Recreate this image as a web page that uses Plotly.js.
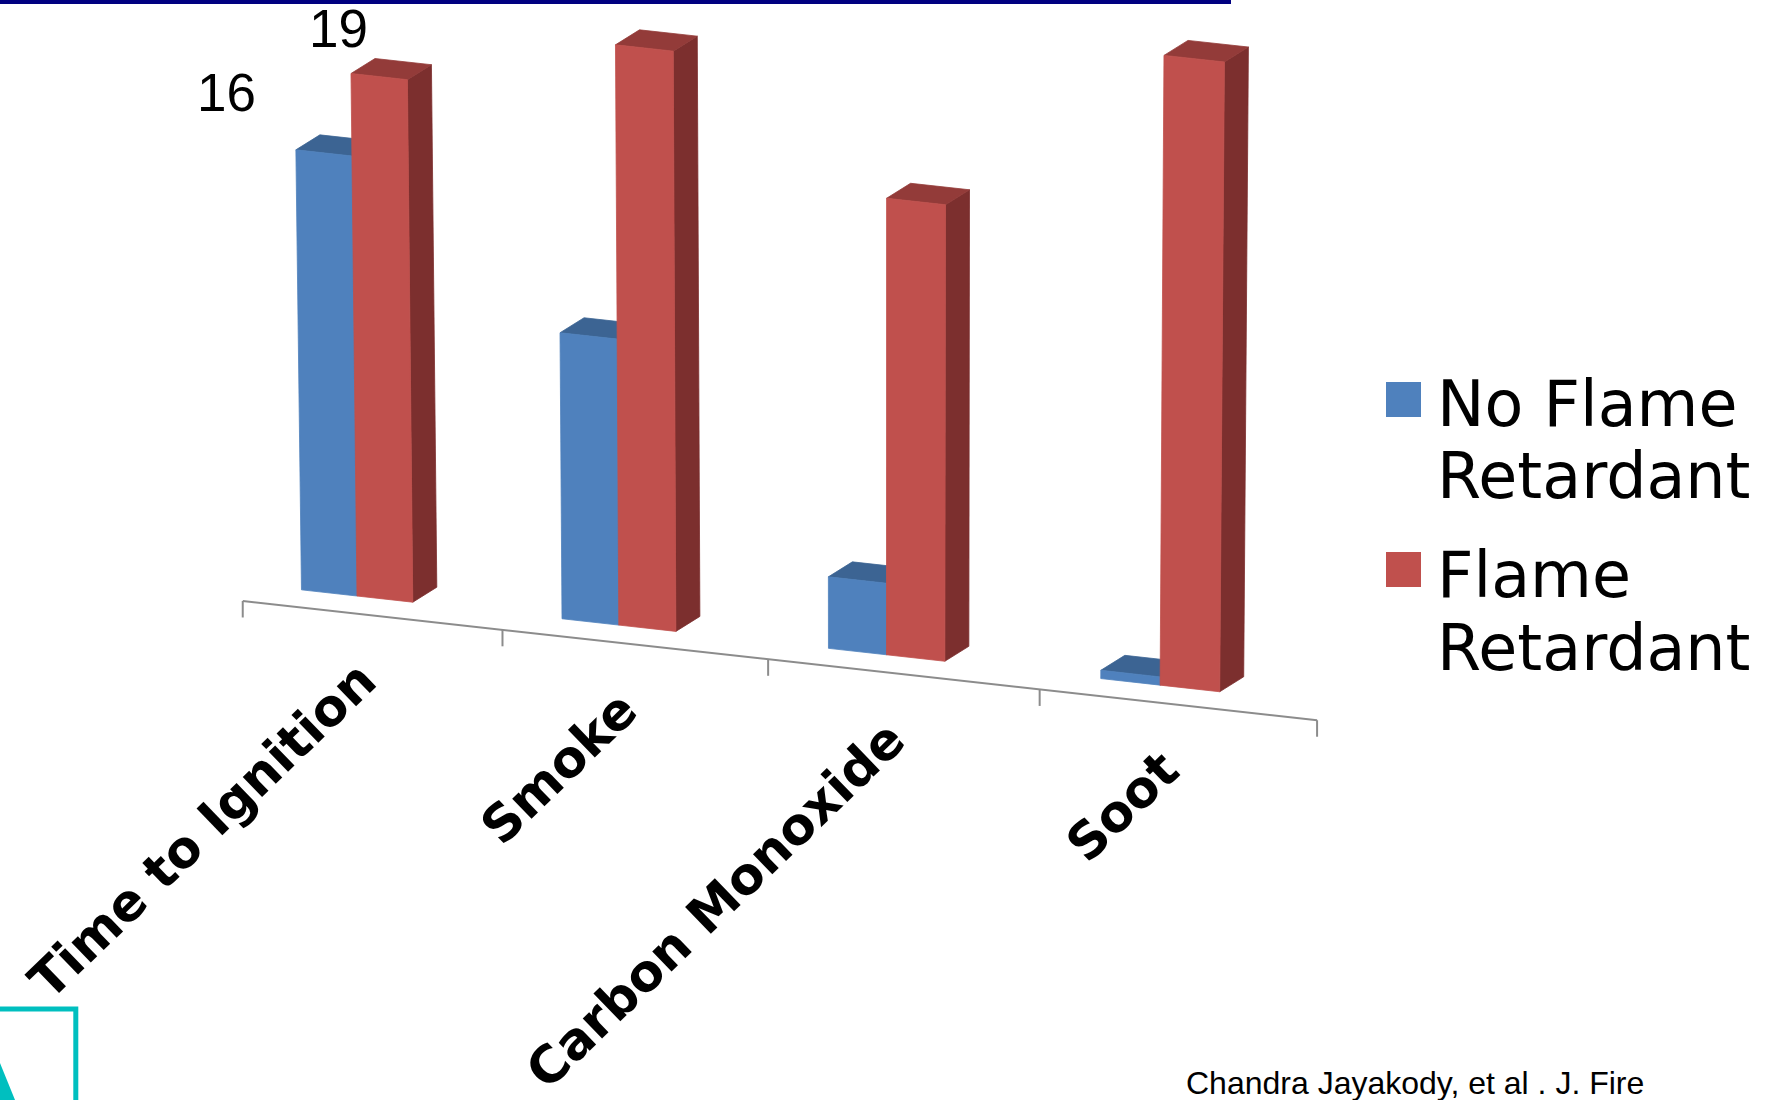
<!DOCTYPE html>
<html>
<head>
<meta charset="utf-8">
<script src="https://cdn.plot.ly/plotly-3.0.1.min.js"></script>
<style>
  html, body { margin: 0; padding: 0; background: #ffffff; }
  #chart { width: 1771px; height: 1100px; }
</style>
</head>
<body>
<div id="chart"></div>
<script>
// ---------------- data ----------------
const categories = ['Time to Ignition', 'Smoke', 'Carbon Monoxide', 'Soot'];
const seriesNames = ['No Flame Retardant', 'Flame Retardant'];
const noFlameRetardant = [16, 10.4, 2.6, 0.3];
const flameRetardant = [19, 21.1, 16.6, 22.9];
const labelledCategory = 0;           // data labels only shown for the first group
const citation = 'Chandra Jayakody, et al . J. Fire';

// ---------------- style ----------------
const W = 1771, H = 1100;
const COLORS = [
  { front: '#4F81BD', top: '#3C6493', side: '#365A86' },
  { front: '#C0504D', top: '#933B39', side: '#7C2F2E' }
];
const BAR_W = 0.215;           // bar width in category units
const DEPTH_X = 0.0897;        // 3D depth offset (category units)
const DEPTH_Y = 0.545;         // 3D depth offset (value units)
const SHEAR = 1.0805;          // floor tilt (value units per category unit)
const LEAN = 6.05e-4, LEAN_C = 1.954; // slight perspective lean of verticals
const PERSP = 0.011;           // slight perspective widening to the right
const X_RANGE = [-1.33358, 5.28203];
const Y_RANGE = [-18.327, 21.673];

// projection of (category position u, value v, depth d) into plot data coords
function P(u, v, d) {
  const U = u + PERSP * u * (u - (categories.length - 1));
  return [U + d * DEPTH_X + LEAN * (U - LEAN_C) * v, v - SHEAR * U + d * DEPTH_Y];
}
function face(pts, color) {
  const xs = pts.map(p => p[0]); xs.push(pts[0][0]);
  const ys = pts.map(p => p[1]); ys.push(pts[0][1]);
  return {
    type: 'scatter', mode: 'lines', x: xs, y: ys, fill: 'toself',
    fillcolor: color, line: { color: color, width: 0.8 },
    hoverinfo: 'skip', showlegend: false
  };
}

const series = [noFlameRetardant, flameRetardant];
const traces = [];
categories.forEach((cat, i) => {
  series.forEach((vals, s) => {
    const v = vals[i];
    const uL = i + (s === 0 ? -BAR_W : 0);
    const uR = uL + BAR_W;
    const c = COLORS[s];
    traces.push(face([P(uR, 0, 0), P(uR, v, 0), P(uR, v, 1), P(uR, 0, 1)], c.side));
    traces.push(face([P(uL, v, 0), P(uR, v, 0), P(uR, v, 1), P(uL, v, 1)], c.top));
    traces.push(face([P(uL, 0, 0), P(uR, 0, 0), P(uR, v, 0), P(uL, v, 0)], c.front));
  });
});

// category axis (front edge of the tilted floor) with tick marks at boundaries
const tickPos = [];
for (let k = 0; k <= categories.length; k++) tickPos.push(k - 0.35);
const axPts = tickPos.map(t => P(t, 0, -1));
traces.push({ type: 'scatter', mode: 'lines', x: axPts.map(p => p[0]), y: axPts.map(p => p[1]),
  line: { color: '#8C8C8C', width: 2 }, hoverinfo: 'skip', showlegend: false });
const tx = [], ty = [];
axPts.forEach(p => { tx.push(p[0], p[0], null); ty.push(p[1], p[1] - 0.6, null); });
traces.push({ type: 'scatter', mode: 'lines', x: tx, y: ty,
  line: { color: '#8C8C8C', width: 2 }, hoverinfo: 'skip', showlegend: false });

// ---------------- annotations ----------------
const annotations = [];
categories.forEach((cat, i) => {
  const p = P(i, 0, -1);
  annotations.push({
    x: p[0], y: p[1], xref: 'x', yref: 'y', text: cat, showarrow: false,
    xanchor: 'right', yanchor: 'top', xshift: 57, yshift: -37, textangle: -44,
    font: { family: 'DejaVu Sans', size: 51, color: '#000000', weight: 'bold' }
  });
});
// data labels
const labelShift = [[-97, 60], [-41, 48]];
series.forEach((vals, s) => {
  const uC = labelledCategory + (s === 0 ? -BAR_W / 2 : BAR_W / 2);
  const p = P(uC, vals[labelledCategory], 0);
  annotations.push({
    x: p[0], y: p[1], xref: 'x', yref: 'y', text: String(vals[labelledCategory]),
    showarrow: false, xanchor: 'center', yanchor: 'middle',
    xshift: labelShift[s][0], yshift: labelShift[s][1],
    font: { family: 'Liberation Sans, Arial, sans-serif', size: 53, color: '#000000' }
  });
});
// legend (large wrapped entries)
const shapes = [];
const legendSquareY = [382, 552];
const legendLineY = [[403.5, 476], [574.5, 647.5]];
seriesNames.forEach((name, s) => {
  shapes.push({ type: 'rect', xref: 'paper', yref: 'paper',
    x0: 1386 / W, x1: 1421 / W, y0: 1 - legendSquareY[s] / H, y1: 1 - (legendSquareY[s] + 35) / H,
    fillcolor: COLORS[s].front, line: { width: 0 } });
  const words = name.split(' ');
  const lines = [words.slice(0, -1).join(' '), words[words.length - 1]];
  lines.forEach((ln, j) => {
    annotations.push({ xref: 'paper', yref: 'paper', x: 1435 / W, y: 1 - legendLineY[s][j] / H,
      text: ln, showarrow: false, xanchor: 'left', yanchor: 'middle',
      font: { family: 'DejaVu Sans', size: 63.5, color: '#000000' } });
  });
});
// citation
annotations.push({ xref: 'paper', yref: 'paper', x: 1184 / W, y: 1 - 1063 / H,
  text: citation, showarrow: false, xanchor: 'left', yanchor: 'top',
  font: { family: 'Liberation Sans, Arial, sans-serif', size: 32, color: '#000000' } });

// decorative slide elements
shapes.push({ type: 'rect', xref: 'paper', yref: 'paper', x0: 0, x1: 1231 / W, y0: 1, y1: 1 - 4 / H,
  fillcolor: '#000080', line: { width: 0 } });
shapes.push({ type: 'rect', xref: 'paper', yref: 'paper', x0: -10 / W, x1: 75.8 / W,
  y0: 1 - 1009 / H, y1: -10 / H, fillcolor: 'rgba(0,0,0,0)', line: { color: '#00BFBF', width: 5 } });
shapes.push({ type: 'path', xref: 'paper', yref: 'paper',
  path: 'M 0 ' + (1 - 1063 / H) + ' L ' + (15 / W) + ' 0 L 0 0 Z',
  fillcolor: '#00BFBF', line: { width: 0 } });

const layout = {
  width: W, height: H,
  margin: { l: 0, r: 0, t: 0, b: 0, pad: 0 },
  paper_bgcolor: '#ffffff', plot_bgcolor: '#ffffff',
  showlegend: false,
  xaxis: { range: X_RANGE, visible: false, fixedrange: true },
  yaxis: { range: Y_RANGE, visible: false, fixedrange: true },
  annotations: annotations,
  shapes: shapes
};
Plotly.newPlot('chart', traces, layout, { displayModeBar: false, staticPlot: true });
</script>
</body>
</html>
